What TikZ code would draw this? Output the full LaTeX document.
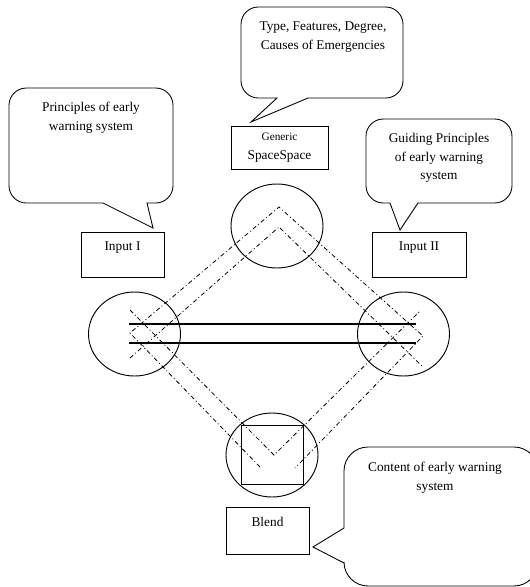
\documentclass[tikz,border=0pt]{standalone}
\usepackage{fontspec}
\setmainfont{Liberation Serif}
\usetikzlibrary{shapes.geometric}

\tikzset{
    space/.style={draw, ellipse, minimum width=69pt, minimum height=63pt, inner sep=0pt, line width=0.7pt},
    labelbox/.style={draw, rectangle, inner sep=0pt, line width=0.7pt, align=center},
    note/.style={align=center},
    bubble/.style={line width=0.65pt},
    proj/.style={line width=0.6pt, dash pattern=on 3.2pt off 2pt on 0.7pt off 2pt}
}

\begin{document}
\begin{tikzpicture}[x=0.75pt, y=-0.75pt, font=\fontsize{10}{14}\selectfont]
    \clip (0,0) rectangle (530,587);

    % the four spaces
    \node[space] (gen) at (277,226) {};
    \node[space] (inA) at (134.5,334) {};
    \node[space] (inB) at (403.5,334) {};
    \node[space] (blend) at (272,455) {};
    \node[labelbox, minimum width=46.5pt, minimum height=44.25pt] (blsq) at (272,454.5) {};

    % names of the spaces
    \node[labelbox, minimum width=72.75pt, minimum height=32.25pt] (genbox) at (279.5,147.5) {{\fontsize{8.5}{12}\selectfont Generic}\\SpaceSpace};
    \node[labelbox, minimum width=62.25pt, minimum height=33.75pt, text depth=12pt] (inAbox) at (122.5,254.5) {Input I};
    \node[labelbox, minimum width=70.5pt, minimum height=33.75pt, text depth=12pt] (inBbox) at (419,254.5) {Input II};
    \node[labelbox, minimum width=62.25pt, minimum height=35.25pt, text depth=13pt] (blbox) at (267.5,530.5) {Blend};

    % callouts
    \draw[bubble] (251,122) -- (277,98) [rounded corners=13pt] -- (241,98) -- (241,7) -- (403,7) -- (403,98) [sharp corners] -- (308,98) -- cycle;
    \draw[bubble] (153,228) -- (103,203) [rounded corners=13pt] -- (9,203) -- (9,88) -- (173,88) -- (173,203) [sharp corners] -- (147,203) -- cycle;
    \draw[bubble] (400,230) -- (390,203) [rounded corners=13pt] -- (366,203) -- (366,119) -- (512,119) -- (512,203) [sharp corners] -- (418,203) -- cycle;
    \draw[bubble] (313,547) -- (344,528) [rounded corners=18pt] -- (344,447) -- (538,447) -- (538,586) -- (344,586) [sharp corners] -- (344,563) -- cycle;

    \node[note] (gennote) at (323,37) {Type, Features, Degree,\\Causes of Emergencies};
    \node[note] (inAnote) at (91,117.5) {Principles of early\\warning system};
    \node[note] (inBnote) at (439,158) {Guiding Principles\\of early warning\\system};
    \node[note] (blnote) at (435,477.5) {Content of early warning\\system};

    % cross-space mapping
    \coordinate (hA1) at (129,324);
    \coordinate (hB1) at (416,324);
    \coordinate (hA2) at (129,343);
    \coordinate (hB2) at (416,343);
    \draw (hA1) -- (hB1) [line width=0.9pt];
    \draw (hA2) -- (hB2) [line width=0.9pt];

    % projections
    \coordinate (gtop) at (279,207);
    \coordinate (gmid) at (279,227);
    \coordinate (aout) at (130,333);
    \coordinate (aup) at (130,310);
    \coordinate (alow) at (130,358);
    \coordinate (bout) at (423,336);
    \coordinate (bup) at (420,311);
    \coordinate (blow) at (423,367);
    \coordinate (vtip) at (274,455);
    \coordinate (vA) at (260,467);
    \coordinate (vB) at (295,468);
    \draw[proj] (vA) -- (aout) -- (gtop) -- (bout) -- (vB);
    \draw[proj] (alow) -- (gmid) -- (blow);
    \draw[proj] (aup) -- (vtip) -- (bup);
\end{tikzpicture}
\end{document}
